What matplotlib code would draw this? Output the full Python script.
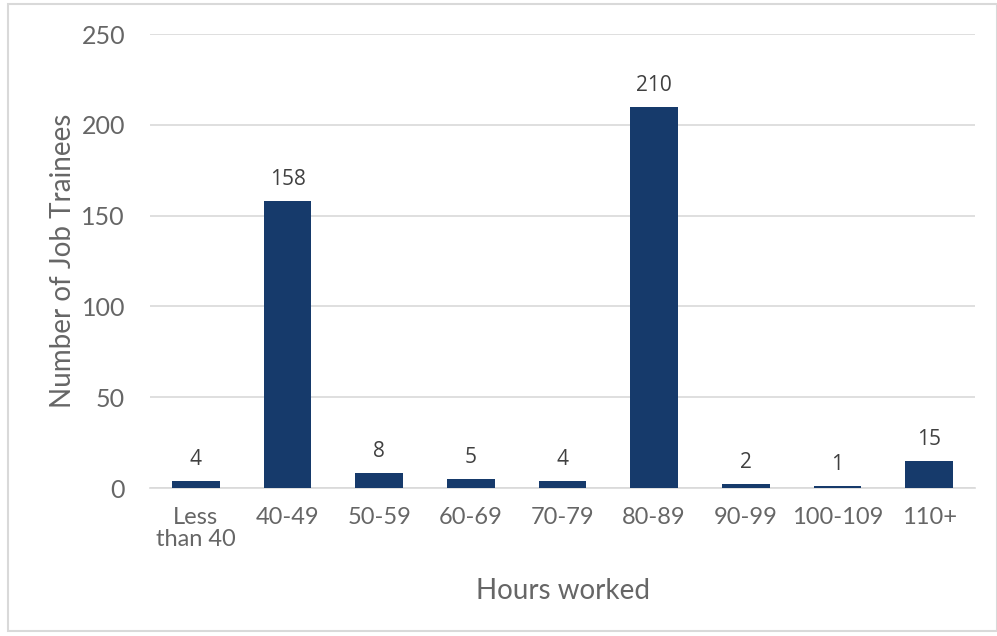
import matplotlib
matplotlib.use("Agg")
import matplotlib.pyplot as plt
from matplotlib.patches import Rectangle

categories = ["Less\nthan 40", "40-49", "50-59", "60-69", "70-79", "80-89", "90-99", "100-109", "110+"]
values = [4, 158, 8, 5, 4, 210, 2, 1, 15]
yticks = [0, 50, 100, 150, 200, 250]

W, H = 997, 636
fig = plt.figure(figsize=(W/100, H/100), dpi=100)
fig.patch.set_facecolor("white")
fig.patches.append(Rectangle((8/W, 1-631/H), (W-8)/W, 627/H, transform=fig.transFigure,
                             fill=False, edgecolor="#d9d9d9", linewidth=1.5))

ax = fig.add_axes([150/W, 1-488/H, 825/W, (488-34)/H])
bar_color = "#163A6B"
x = list(range(len(categories)))
bars = ax.bar(x, values, width=0.52, color=bar_color, zorder=3)
ax.set_xlim(-0.5, len(categories)-0.5)
ax.set_ylim(0, 250)
ax.set_yticks(yticks)
ax.yaxis.grid(True, color="#d9d9d9", linewidth=1.2, zorder=0)
for s in ["top", "right", "left"]:
    ax.spines[s].set_visible(False)
ax.spines["bottom"].set_color("#d9d9d9")
ax.spines["bottom"].set_linewidth(1.2)
ax.tick_params(axis="both", length=0, colors="#666666", labelsize=17)
ax.tick_params(axis="y", pad=18)
ax.tick_params(axis="x", pad=14)
ax.set_xticks(x)
ax.set_xticklabels(categories, family="Lato", color="#666666", fontsize=17, linespacing=1.05)
for lab in ax.get_yticklabels():
    lab.set_family("Lato")
    lab.set_fontsize(18)
for xi, v in zip(x, values):
    ax.annotate(str(v), (xi, v), xytext=(0, 8), textcoords="offset points",
                ha="center", va="bottom", fontsize=15, color="#404040", family="Open Sans")
ax.set_xlabel("Hours worked", family="Lato", fontsize=20, color="#666666", labelpad=20)
ax.set_ylabel("Number of Job Trainees", family="Lato", fontsize=20, color="#666666", labelpad=4)
fig.savefig("out.png", dpi=100)
